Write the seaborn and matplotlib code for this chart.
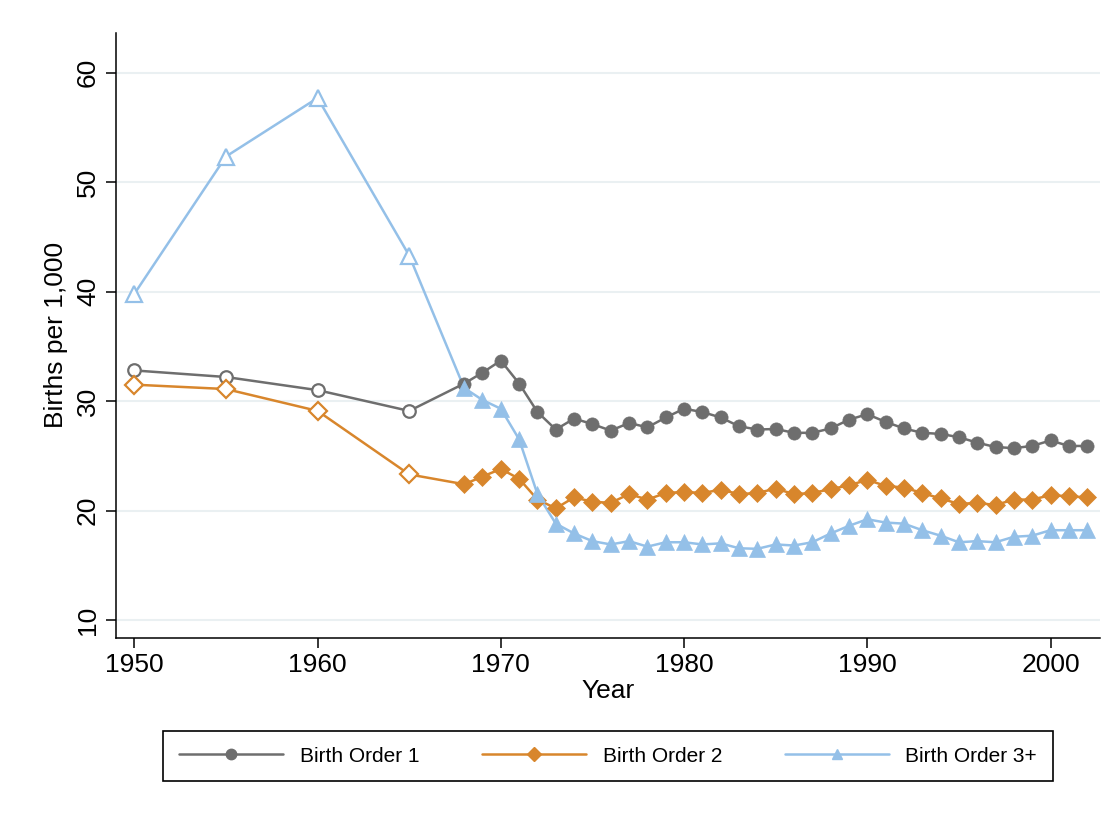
import numpy as np
import pandas as pd
import matplotlib
matplotlib.use('Agg')
import matplotlib.pyplot as plt
from matplotlib.lines import Line2D
import seaborn as sns

# Data (births per 1,000)
years = [1950, 1955, 1960, 1965, 1968, 1969, 1970, 1971, 1972, 1973, 1974, 1975,
         1976, 1977, 1978, 1979, 1980, 1981, 1982, 1983, 1984, 1985, 1986, 1987,
         1988, 1989, 1990, 1991, 1992, 1993, 1994, 1995, 1996, 1997, 1998, 1999,
         2000, 2001, 2002]

order1 = [32.8, 32.2, 31.0, 29.1, 31.6, 32.6, 33.7, 31.6, 29.0, 27.4, 28.4, 27.9,
          27.3, 28.0, 27.6, 28.5, 29.3, 29.0, 28.5, 27.7, 27.4, 27.45, 27.1, 27.1,
          27.5, 28.3, 28.8, 28.1, 27.5, 27.1, 27.0, 26.7, 26.2, 25.8, 25.7, 25.9,
          26.4, 25.9, 25.9]

order2 = [31.5, 31.1, 29.1, 23.3, 22.4, 23.1, 23.8, 22.9, 21.0, 20.2, 21.2, 20.8,
          20.7, 21.5, 21.0, 21.6, 21.7, 21.6, 21.9, 21.5, 21.6, 22.0, 21.5, 21.6,
          21.95, 22.3, 22.8, 22.25, 22.1, 21.6, 21.1, 20.6, 20.7, 20.5, 21.0, 21.0,
          21.4, 21.3, 21.2]

order3 = [39.8, 52.35, 57.7, 43.3, 31.2, 30.1, 29.3, 26.5, 21.5, 18.8, 17.9, 17.2,
          16.9, 17.2, 16.7, 17.1, 17.1, 16.9, 17.0, 16.55, 16.5, 16.9, 16.8, 17.1,
          17.9, 18.6, 19.2, 18.9, 18.8, 18.2, 17.7, 17.1, 17.2, 17.1, 17.6, 17.7,
          18.2, 18.2, 18.2]

series_names = ['Birth Order 1', 'Birth Order 2', 'Birth Order 3+']
colors = ['#6e6e6e', '#d8862c', '#94c0e8']
markers = ['o', 'D', '^']
msizes = [9.5, 9.5, 11.5]

# years before this are drawn with hollow markers
hollow_before = 1968

df = pd.DataFrame({'Year': years, series_names[0]: order1,
                   series_names[1]: order2, series_names[2]: order3})
long_df = df.melt(id_vars='Year', var_name='series', value_name='rate')

sns.set_style('white')
plt.rcParams['font.family'] = ['Liberation Sans', 'DejaVu Sans']
plt.rcParams['text.color'] = 'black'
plt.rcParams['axes.labelcolor'] = 'black'
plt.rcParams['xtick.color'] = 'black'
plt.rcParams['ytick.color'] = 'black'

fig = plt.figure(figsize=(11.19, 8.19), dpi=100)
ax = fig.add_axes([0.1037, 0.221, 0.8793, 0.7389])

for name, col, mk, ms in zip(series_names, colors, markers, msizes):
    sub = long_df[long_df['series'] == name]
    sns.lineplot(data=sub, x='Year', y='rate', color=col, lw=1.8, ax=ax,
                 legend=False, zorder=3)
    early = sub[sub['Year'] < hollow_before]
    late = sub[sub['Year'] >= hollow_before]
    ax.plot(early['Year'], early['rate'], ls='none', marker=mk, ms=ms * 0.95,
            mfc='white', mec=col, mew=1.6, zorder=4)
    ax.plot(late['Year'], late['rate'], ls='none', marker=mk, ms=ms,
            mfc=col, mec=col, mew=0.5, zorder=4)

ax.set_xlim(1949.0, 2002.7)
ax.set_ylim(8.35, 63.65)
ax.set_xticks([1950, 1960, 1970, 1980, 1990, 2000])
ax.set_yticks([10, 20, 30, 40, 50, 60])

ax.grid(axis='y', color='#eaf0f2', lw=1.5)
ax.grid(axis='x', visible=False)
ax.set_axisbelow(True)

for s in ['top', 'right']:
    ax.spines[s].set_visible(False)
for s in ['left', 'bottom']:
    ax.spines[s].set_color('black')
    ax.spines[s].set_linewidth(1.1)

ax.tick_params(axis='both', direction='out', length=7.5, width=1.1,
               color='black', labelcolor='black', labelsize=19,
               left=True, bottom=True)
ax.tick_params(axis='y', pad=4)
ax.tick_params(axis='x', pad=3)
for lab in ax.get_yticklabels():
    lab.set_rotation(90)
    lab.set_va('center')

ax.set_xlabel('Year', fontsize=19, labelpad=2, color='black')
ax.set_ylabel('Births per 1,000', fontsize=19, labelpad=6, color='black')

handles = [Line2D([0], [0], color=c, lw=1.8, marker=m, ms=7.5, mfc=c, mec=c)
           for c, m in zip(colors, markers)]
leg = ax.legend(handles, series_names, loc='center', bbox_to_anchor=(0.5, -0.195),
                ncol=3, fontsize=15, frameon=True, fancybox=False, framealpha=1,
                handlelength=5.0, handletextpad=0.8, columnspacing=3.0,
                borderpad=0.75, edgecolor='black')
leg.get_frame().set_linewidth(1.2)
for t in leg.get_texts():
    t.set_color('black')

fig.savefig('out.png', dpi=100, facecolor='white')
